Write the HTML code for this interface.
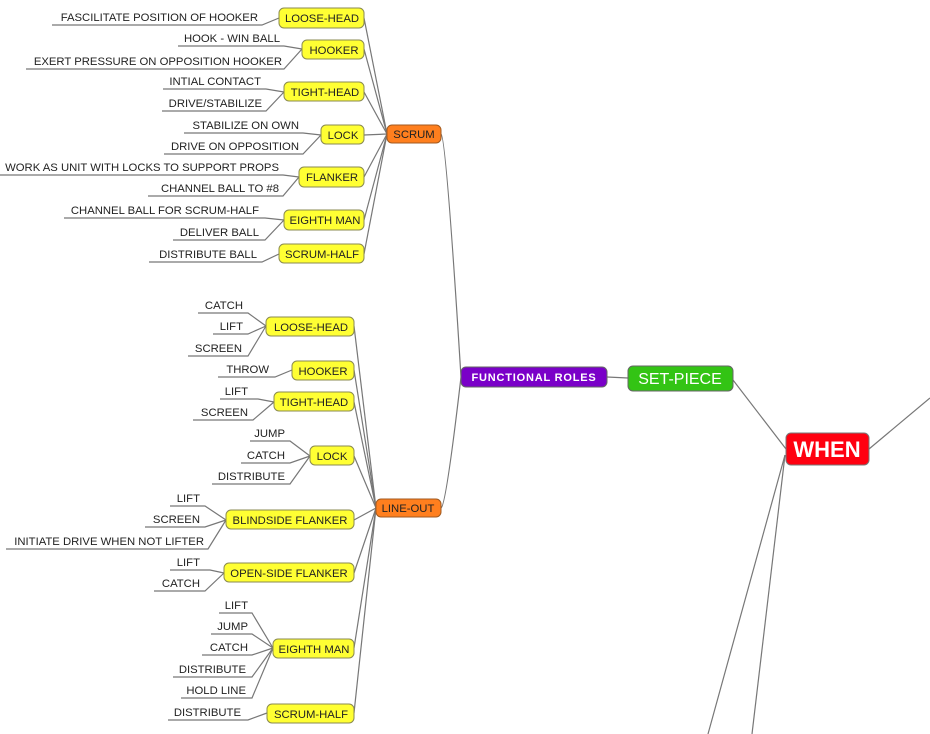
<!DOCTYPE html>
<html><head><meta charset="utf-8"><style>
html,body{margin:0;padding:0;background:#fff;width:930px;height:734px;overflow:hidden}
svg{display:block}
text{font-family:"Liberation Sans",sans-serif;font-size:11.3px;fill:#222}
.l{fill:none;stroke:#777;stroke-width:1.2}
.y{fill:#ffff33;stroke:#8a8a50;stroke-width:1}
.o{fill:#ff7f1e;stroke:#a05a20;stroke-width:1}
.nt{text-anchor:middle}
.lt{text-anchor:end}
</style></head><body>
<svg width="930" height="734" viewBox="0 0 930 734" xmlns="http://www.w3.org/2000/svg">
<g class="l">
<path d="M786 449 L733 380"/>
<path d="M869 449 L930 398"/>
<path d="M785 455 L708 734"/>
<path d="M785 455 L752 734"/>
<path d="M607 377 L628 378"/>
<path d="M441 134 Q446 136 461 377"/>
<path d="M441 508 Q446 506 461 377"/>
<path d="M387 134 L364 18"/><path d="M387 134 L364 49"/><path d="M387 134 L364 92"/>
<path d="M387 134 L364 135"/><path d="M387 134 L364 177"/><path d="M387 134 L364 220"/><path d="M387 134 L364 254"/>
<path d="M376 508 L354 326"/><path d="M376 508 L354 370"/><path d="M376 508 L354 402"/><path d="M376 508 L354 456"/>
<path d="M376 508 L354 520"/><path d="M376 508 L354 573"/><path d="M376 508 L354 648"/><path d="M376 508 L354 713"/>
<path d="M52 25H262L279 18"/><path d="M178 46H284L302 49"/><path d="M26 69H284L302 49"/>
<path d="M163 89H266L284 92"/><path d="M162 111H266L284 92"/>
<path d="M184 133H303L321 135"/><path d="M164 154H303L321 135"/>
<path d="M0 175H283L299 177"/><path d="M148 196H283L299 177"/>
<path d="M64 218H265L284 220"/><path d="M173 240H265L284 220"/>
<path d="M149 262H262L279 254"/>
<path d="M198 313H248L266 326"/><path d="M213 334H248L266 326"/><path d="M188 356H248L266 326"/>
<path d="M218 377H275L292 370"/>
<path d="M220 399H258L274 402"/><path d="M193 420H253L274 402"/>
<path d="M250 441H290L310 456"/><path d="M241 463H290L310 456"/><path d="M212 484H290L310 456"/>
<path d="M170 506H205L226 520"/><path d="M145 527H205L226 520"/><path d="M6 549H208L226 520"/>
<path d="M170 570H210L224 573"/><path d="M154 591H205L224 573"/>
<path d="M219 613H252L273 648"/><path d="M211 634H252L273 648"/><path d="M202 655H252L273 648"/>
<path d="M173 677H252L273 648"/><path d="M181 698H252L273 648"/>
<path d="M168 720H248L267 713"/>
</g>
<g class="lt">
<text x="258" y="21">FASCILITATE POSITION OF HOOKER</text>
<text x="280" y="42">HOOK - WIN BALL</text>
<text x="282" y="65">EXERT PRESSURE ON OPPOSITION HOOKER</text>
<text x="261" y="85">INTIAL CONTACT</text>
<text x="262" y="107">DRIVE/STABILIZE</text>
<text x="299" y="129">STABILIZE ON OWN</text>
<text x="299" y="150">DRIVE ON OPPOSITION</text>
<text x="279" y="171">WORK AS UNIT WITH LOCKS TO SUPPORT PROPS</text>
<text x="279" y="192">CHANNEL BALL TO #8</text>
<text x="259" y="214">CHANNEL BALL FOR SCRUM-HALF</text>
<text x="259" y="236">DELIVER BALL</text>
<text x="257" y="258">DISTRIBUTE BALL</text>
<text x="243" y="309">CATCH</text>
<text x="243" y="330">LIFT</text>
<text x="242" y="352">SCREEN</text>
<text x="269" y="373">THROW</text>
<text x="248" y="395">LIFT</text>
<text x="248" y="416">SCREEN</text>
<text x="285" y="437">JUMP</text>
<text x="285" y="459">CATCH</text>
<text x="285" y="480">DISTRIBUTE</text>
<text x="200" y="502">LIFT</text>
<text x="200" y="523">SCREEN</text>
<text x="204" y="545">INITIATE DRIVE WHEN NOT LIFTER</text>
<text x="200" y="566">LIFT</text>
<text x="200" y="587">CATCH</text>
<text x="248" y="609">LIFT</text>
<text x="248" y="630">JUMP</text>
<text x="248" y="651">CATCH</text>
<text x="246" y="673">DISTRIBUTE</text>
<text x="246" y="694">HOLD LINE</text>
<text x="241" y="716">DISTRIBUTE</text>
</g>
<g>
<rect class="y" x="279" y="8" width="85" height="20" rx="5"/><text class="nt" x="322" y="22">LOOSE-HEAD</text>
<rect class="y" x="302" y="40" width="62" height="19" rx="5"/><text class="nt" x="334" y="54">HOOKER</text>
<rect class="y" x="284" y="82" width="80" height="19" rx="5"/><text class="nt" x="325" y="96">TIGHT-HEAD</text>
<rect class="y" x="321" y="125" width="43" height="19" rx="5"/><text class="nt" x="343" y="139">LOCK</text>
<rect class="y" x="299" y="167" width="65" height="20" rx="5"/><text class="nt" x="332" y="181">FLANKER</text>
<rect class="y" x="284" y="210" width="80" height="20" rx="5"/><text class="nt" x="325" y="224">EIGHTH MAN</text>
<rect class="y" x="279" y="244" width="85" height="19" rx="5"/><text class="nt" x="322" y="258">SCRUM-HALF</text>
<rect class="y" x="266" y="317" width="88" height="19" rx="5"/><text class="nt" x="311" y="331">LOOSE-HEAD</text>
<rect class="y" x="292" y="361" width="62" height="19" rx="5"/><text class="nt" x="323" y="375">HOOKER</text>
<rect class="y" x="274" y="392" width="80" height="19" rx="5"/><text class="nt" x="314" y="406">TIGHT-HEAD</text>
<rect class="y" x="310" y="446" width="44" height="19" rx="5"/><text class="nt" x="332" y="460">LOCK</text>
<rect class="y" x="226" y="510" width="128" height="19" rx="5"/><text class="nt" x="290" y="524">BLINDSIDE FLANKER</text>
<rect class="y" x="224" y="563" width="130" height="19" rx="5"/><text class="nt" x="289" y="577">OPEN-SIDE FLANKER</text>
<rect class="y" x="273" y="639" width="81" height="19" rx="5"/><text class="nt" x="314" y="653">EIGHTH MAN</text>
<rect class="y" x="267" y="704" width="87" height="19" rx="5"/><text class="nt" x="311" y="718">SCRUM-HALF</text>
</g>
<rect class="o" x="387" y="125" width="54" height="18" rx="5"/><text class="nt" x="414" y="138">SCRUM</text>
<rect class="o" x="376" y="499" width="65" height="18" rx="5"/><text class="nt" x="408" y="512">LINE-OUT</text>
<rect x="461" y="367" width="146" height="20" rx="5" fill="#7a00c8" stroke="#666"/>
<text class="nt" x="534" y="381" style="fill:#fff;font-weight:bold;font-size:11px;letter-spacing:0.8px">FUNCTIONAL ROLES</text>
<rect x="628" y="366" width="105" height="25" rx="5" fill="#33c414" stroke="#666"/>
<text class="nt" x="680" y="384" style="fill:#fff;font-size:16px">SET-PIECE</text>
<rect x="786" y="433" width="83" height="32" rx="5" fill="#ff0010" stroke="#777"/>
<text class="nt" x="827" y="457" style="fill:#fff;font-size:22px;font-weight:bold">WHEN</text>
</svg>
</body></html>
